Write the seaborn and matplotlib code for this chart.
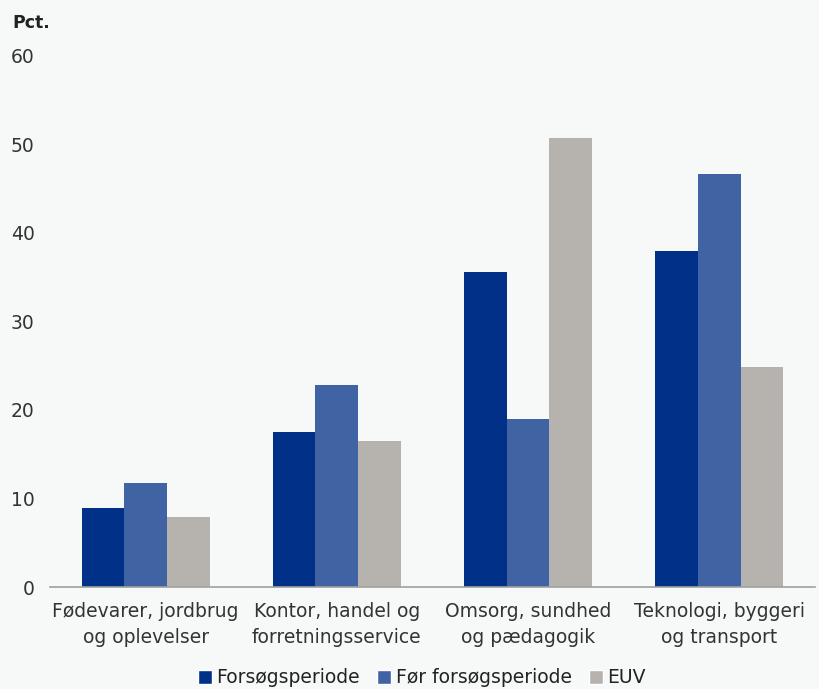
import pandas as pd
import seaborn as sns
import matplotlib.pyplot as plt
from matplotlib.patches import Patch

categories = ['Fødevarer, jordbrug\nog oplevelser',
              'Kontor, handel og\nforretningsservice',
              'Omsorg, sundhed\nog pædagogik',
              'Teknologi, byggeri\nog transport']
series = ['Forsøgsperiode', 'Før forsøgsperiode', 'EUV']
forsog = [8.9, 17.5, 35.6, 38.0]
for_forsog = [11.8, 22.8, 19.0, 46.6]
euv = [7.9, 16.5, 50.7, 24.9]
colors = ['#003087', '#4063a3', '#b6b3ae']

rows = []
for s, vals in zip(series, [forsog, for_forsog, euv]):
    for c, v in zip(categories, vals):
        rows.append({'kategori': c, 'serie': s, 'pct': v})
df = pd.DataFrame(rows)

sns.set_theme(style="white")
plt.rcParams['font.family'] = ['DejaVu Sans']
bg = '#f7f9f9'
fig = plt.figure(figsize=(8.19, 6.89), dpi=100, facecolor=bg)
ax = fig.add_axes([0.061, 0.148, 0.934, 0.771], facecolor=bg)

sns.barplot(data=df, x='kategori', y='pct', hue='serie', order=categories,
            hue_order=series, palette=colors, width=0.67, ax=ax,
            saturation=1, legend=False, edgecolor='none')

ax.set_xlim(-0.5, 3.5)
ax.set_ylim(0, 60)
ax.set_yticks(range(0, 61, 10))
ax.set_xlabel('')
ax.set_ylabel('')
for side in ['top', 'right', 'left']:
    ax.spines[side].set_visible(False)
ax.spines['bottom'].set_color('#a0a0a0')
ax.spines['bottom'].set_linewidth(1.2)
ax.tick_params(axis='y', length=0, labelsize=13.5, colors='#333333', pad=11)
ax.tick_params(axis='x', which='major', length=0, labelsize=13.5, colors='#333333', pad=11)
for lab in ax.get_xticklabels():
    lab.set_linespacing(1.45)
ax.set_xticks([-0.5, 0.5, 1.5, 2.5, 3.5], minor=True)
ax.tick_params(axis='x', which='minor', length=5, color='#a0a0a0', direction='out')

fig.text(0.015, 0.96, 'Pct.', fontsize=12.5, fontweight='bold', color='#222222')

handles = [Patch(facecolor=c, label=s) for c, s in zip(colors, series)]
fig.legend(handles=handles, loc='lower center', bbox_to_anchor=(0.515, -0.022), ncol=3,
           frameon=False, fontsize=13.5, handlelength=0.75, handleheight=0.75,
           handletextpad=0.25, columnspacing=0.9, labelcolor='#222222')

fig.savefig('out.png', dpi=100, facecolor=bg)
